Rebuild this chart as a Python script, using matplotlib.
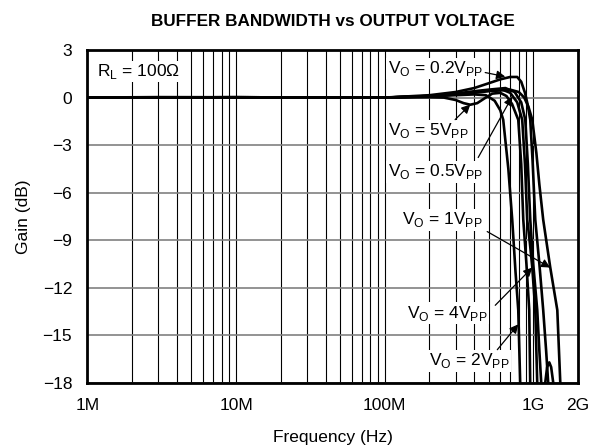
import numpy as np
import matplotlib
matplotlib.use("Agg")
import matplotlib.pyplot as plt
from matplotlib.ticker import FixedLocator, LogLocator, NullFormatter

plt.rcParams['font.family'] = ['Liberation Sans', 'DejaVu Sans']
plt.rcParams['mathtext.fontset'] = 'custom'
plt.rcParams['mathtext.rm'] = 'Liberation Sans'

# frequency in MHz, gain in dB
f_2vpp = [1, 3, 10, 100, 200, 300, 400, 480, 550, 600, 628, 680, 722, 760, 793, 817, 840]
g_2vpp = [0, 0.03, 0.02, 0, 0.08, 0.15, 0.2, 0.15, -0.2, -0.8, -1.4, -4.5, -7.7, -11, -13.4, -18, -20]

f_5vpp = [1, 10, 100, 200, 250, 300, 340, 377, 420, 470, 530, 600, 660, 720, 793, 830, 857, 900, 940, 960]
g_5vpp = [0, 0.02, 0, 0.02, 0, -0.15, -0.35, -0.45, -0.35, -0.05, 0.25, 0.3, 0.1, -0.4, -1.4, -4.2, -7.7, -10.5, -13.4, -20]

f_4vpp = [1, 10, 100, 200, 300, 400, 500, 620, 700, 780, 843, 880, 911, 950, 985, 1032, 1064, 1090]
g_4vpp = [0, 0.02, 0, 0.08, 0.2, 0.35, 0.45, 0.5, 0.3, -0.3, -1.4, -4.2, -7.7, -9.2, -10.7, -13.4, -18, -20]

f_05vpp = [1, 10, 100, 200, 300, 400, 500, 650, 750, 830, 884, 920, 955, 1000, 1064, 1100, 1132, 1150,
           1204, 1240, 1282, 1320, 1364, 1400]
g_05vpp = [0, 0.02, 0, 0.1, 0.25, 0.4, 0.5, 0.6, 0.35, -0.3, -1.4, -4.2, -7.7, -10.5, -13.4, -16, -18, -20,
           -18, -17, -16.7, -17, -18, -20]

f_02vpp = [1, 10, 100, 200, 300, 400, 500, 600, 700, 780, 830, 880, 920, 955, 990, 1032, 1100, 1167, 1222, 1261, 1300]
g_02vpp = [0, 0.02, 0, 0.15, 0.35, 0.6, 0.9, 1.15, 1.3, 1.3, 1.0, 0.3, -0.5, -1.4, -4.0, -7.7, -10.5, -13.4, -16, -18, -20]

f_1vpp = [1, 10, 100, 200, 300, 400, 500, 600, 700, 800, 870, 930, 985, 1050, 1100, 1167, 1301, 1452, 1521, 1560]
g_1vpp = [0, 0.02, 0, 0.1, 0.2, 0.3, 0.4, 0.45, 0.5, 0.35, 0, -0.6, -1.4, -3.5, -5.5, -7.7, -10.7, -13.4, -18, -20]

curves = [(f_2vpp, g_2vpp), (f_5vpp, g_5vpp), (f_4vpp, g_4vpp),
          (f_05vpp, g_05vpp), (f_02vpp, g_02vpp), (f_1vpp, g_1vpp)]

x_ticks = [1e6, 1e7, 1e8, 1e9, 2e9]
x_labels = ['1M', '10M', '100M', '1G', '2G']
y_ticks = [3, 0, -3, -6, -9, -12, -15, -18]

fig = plt.figure(figsize=(5.94, 4.47), dpi=100)
ax = fig.add_axes([0.1473, 0.1432, 0.8257, 0.7449])

for f, g in curves:
    ax.plot(np.array(f) * 1e6, g, color='black', lw=1.9, zorder=4, solid_capstyle='round')

ax.set_xscale('log')
ax.set_xlim(1e6, 2e9)
ax.set_ylim(-18, 3)
ax.xaxis.set_major_locator(FixedLocator(x_ticks))
ax.set_xticklabels(x_labels)
ax.xaxis.set_minor_locator(LogLocator(base=10, subs=np.arange(2, 10)))
ax.xaxis.set_minor_formatter(NullFormatter())
ax.set_yticks(y_ticks)
ax.set_yticklabels([str(v).replace('-', '\u2212') for v in y_ticks])
ax.tick_params(which='both', length=0, labelsize=12.5, pad=11)

ax.set_axisbelow(True)
ax.grid(True, which='both', axis='x', color='black', lw=0.8)
ax.grid(True, which='major', axis='y', color='0.5', lw=1.2)
for s in ax.spines.values():
    s.set_linewidth(2)

ax.set_title('BUFFER BANDWIDTH vs OUTPUT VOLTAGE', fontsize=12.3, fontweight='bold', pad=17)
ax.set_xlabel('Frequency (Hz)', fontsize=12.5, labelpad=12)
ax.set_ylabel('Gain (dB)', fontsize=12.5, labelpad=8)

box = dict(facecolor='white', edgecolor='none', pad=1)
ax.text(1.16e6, 1.64, r'R$_\mathregular{L}$ = 100Ω', fontsize=12.5, va='center', ha='left', bbox=box, zorder=3)

arrow = dict(arrowstyle='-|>', color='black', lw=0.9, mutation_scale=13, shrinkA=0, shrinkB=0)
labels = [
    (r'V$_\mathregular{O}$ = 0.2V$_\mathregular{PP}$', 105e6, 1.83, (475e6, 1.58), (648e6, 1.32)),
    (r'V$_\mathregular{O}$ = 5V$_\mathregular{PP}$', 105e6, -2.08, (298e6, -1.39), (377e6, -0.44)),
    (r'V$_\mathregular{O}$ = 0.5V$_\mathregular{PP}$', 105e6, -4.67, (426e6, -3.78), (722e6, 0.06)),
    (r'V$_\mathregular{O}$ = 1V$_\mathregular{PP}$', 131e6, -7.7, (490e6, -8.45), (1301e6, -10.72)),
    (r'V$_\mathregular{O}$ = 4V$_\mathregular{PP}$', 142e6, -13.6, (555e6, -13.1), (985e6, -10.72)),
    (r'V$_\mathregular{O}$ = 2V$_\mathregular{PP}$', 199e6, -16.6, (573e6, -15.9), (793e6, -14.3)),
]
for txt, tx, ty, tail, tip in labels:
    ax.text(tx, ty, txt, fontsize=12.5, va='center', ha='left', bbox=box, zorder=3)
    ax.annotate('', xy=tip, xytext=tail, arrowprops=arrow, zorder=5)

fig.savefig('out.png', dpi=100)
